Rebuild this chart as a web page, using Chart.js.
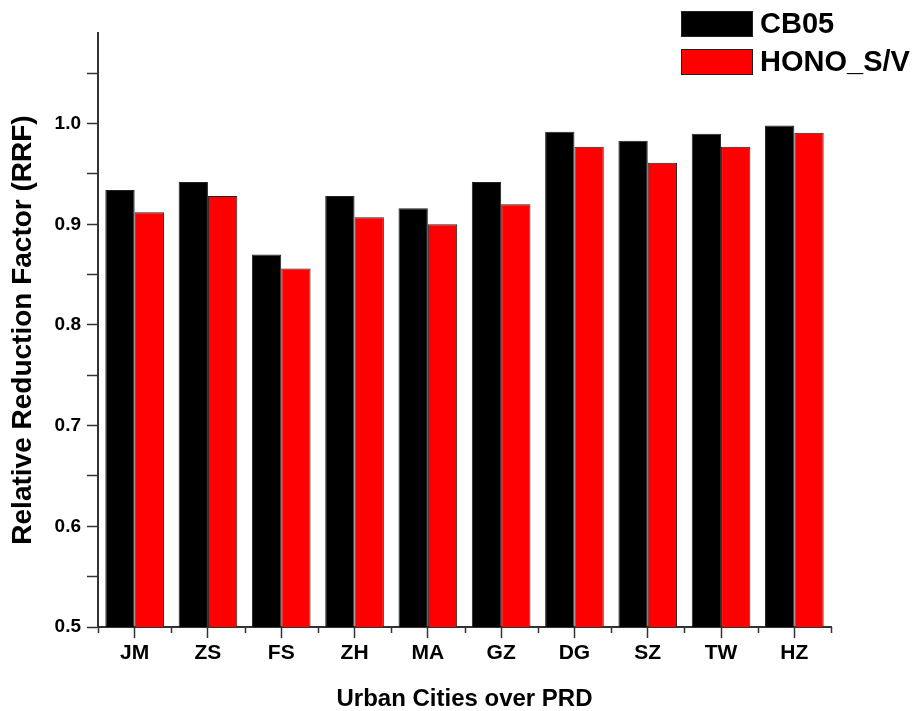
<!DOCTYPE html>
<html>
<head>
<meta charset="utf-8">
<script src="https://cdn.jsdelivr.net/npm/chart.js@4.4.1/dist/chart.umd.min.js"></script>
<style>
  html, body { margin: 0; padding: 0; background: #fff; }
  #wrap { width: 914px; height: 711px; position: relative; }
</style>
</head>
<body>
<div id="wrap"><canvas id="rrf"></canvas></div>
<script>
// Urban cities in the Pearl River Delta
const cities = ['JM', 'ZS', 'FS', 'ZH', 'MA', 'GZ', 'DG', 'SZ', 'TW', 'HZ'];
// Relative reduction factor per city, for each chemical mechanism
const cb05 = [0.934, 0.942, 0.870, 0.928, 0.916, 0.942, 0.992, 0.983, 0.990, 0.998];
const honoSV = [0.912, 0.928, 0.856, 0.907, 0.900, 0.920, 0.977, 0.961, 0.977, 0.991];
const seriesNames = ['CB05', 'HONO_S/V'];
const seriesColors = ['#000000', '#ff0000'];

const FONT = "'Liberation Sans', Arial, sans-serif";
const AXIS = '#333333';

// Short ticks on the category boundaries of the x axis
const boundaryTicks = {
  id: 'boundaryTicks',
  afterDraw(chart) {
    const x = chart.scales.x;
    const n = chart.data.labels.length;
    const ctx = chart.ctx;
    const pts = [];
    for (let i = 0; i <= n; i++) {
      let p;
      if (i === 0) p = x.left;
      else if (i === n) p = x.right;
      else p = (x.getPixelForValue(i - 1) + x.getPixelForValue(i)) / 2;
      pts.push(p);
    }
    ctx.save();
    ctx.strokeStyle = AXIS;
    ctx.lineWidth = 1.5;
    ctx.beginPath();
    pts.forEach(p => {
      ctx.moveTo(Math.round(p) + 0.5, x.top);
      ctx.lineTo(Math.round(p) + 0.5, x.top + 6);
    });
    ctx.stroke();
    ctx.restore();
  }
};

// Legend box in the upper right corner
const cornerLegend = {
  id: 'cornerLegend',
  afterDraw(chart) {
    const ctx = chart.ctx;
    ctx.save();
    ctx.font = 'bold 29px ' + FONT;
    ctx.textBaseline = 'middle';
    ctx.textAlign = 'left';
    chart.data.datasets.forEach((ds, i) => {
      const top = 11 + i * 38;
      ctx.fillStyle = ds.backgroundColor;
      ctx.fillRect(681, top, 72, 26);
      ctx.strokeStyle = '#222';
      ctx.lineWidth = 1;
      ctx.strokeRect(681.5, top + 0.5, 71, 25);
      ctx.fillStyle = '#000';
      ctx.fillText(ds.label, 760, top + 14);
    });
    ctx.restore();
  }
};

new Chart(document.getElementById('rrf'), {
  type: 'bar',
  data: {
    labels: cities,
    datasets: [
      { label: seriesNames[0], data: cb05, backgroundColor: seriesColors[0], borderColor: '#222', borderWidth: 1 },
      { label: seriesNames[1], data: honoSV, backgroundColor: seriesColors[1], borderColor: '#222', borderWidth: 1 }
    ]
  },
  options: {
    responsive: true,
    maintainAspectRatio: false,
    animation: false,
    layout: { padding: { top: 33, right: 83, left: 0, bottom: 0 } },
    datasets: { bar: { categoryPercentage: 0.8, barPercentage: 1.0 } },
    plugins: {
      legend: { display: false },
      tooltip: { enabled: false }
    },
    scales: {
      x: {
        offset: true,
        afterFit(s) { s.height = 84; },
        border: { display: true, color: AXIS, width: 2 },
        grid: { offset: false, drawOnChartArea: false, drawTicks: true, tickLength: 11, tickWidth: 1.5, tickColor: AXIS },
        ticks: { color: '#000', font: { family: FONT, size: 21, weight: 'bold' }, padding: 3, maxRotation: 0, autoSkip: false },
        title: { display: true, text: 'Urban Cities over PRD', color: '#000', font: { family: FONT, size: 24, weight: 'bold', lineHeight: 1 }, padding: { top: 0, bottom: 0 } }
      },
      y: {
        min: 0.5,
        max: 1.09,
        afterFit(s) { s.width = 98; },
        border: { display: true, color: AXIS, width: 2 },
        grid: { drawOnChartArea: false, drawTicks: true, tickLength: 11, tickWidth: 1.5, tickColor: AXIS },
        ticks: {
          stepSize: 0.05,
          includeBounds: false,
          padding: 6,
          color: '#000',
          font: { family: FONT, size: 19, weight: 'bold' },
          callback(v) {
            const t = Math.round(v * 10);
            return Math.abs(v * 10 - t) < 1e-6 ? (t / 10).toFixed(1) : '';
          }
        },
        title: { display: true, text: 'Relative Reduction Factor (RRF)', color: '#000', font: { family: FONT, size: 28, weight: 'bold', lineHeight: 1 }, padding: { top: 9, bottom: 0 } }
      }
    }
  },
  plugins: [boundaryTicks, cornerLegend]
});
</script>
</body>
</html>
